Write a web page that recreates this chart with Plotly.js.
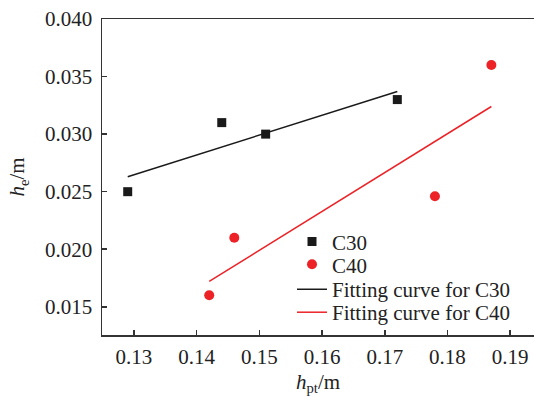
<!DOCTYPE html>
<html>
<head>
<meta charset="utf-8">
<script src="https://cdn.plot.ly/plotly-3.0.1.min.js"></script>
<style>html,body{margin:0;padding:0;overflow:hidden;background:#fff;}</style>
</head>
<body>
<div id="chart" style="width:534px;height:396px;"></div>
<script>
const c30X = [0.129, 0.144, 0.151, 0.172];
const c30Y = [0.025, 0.031, 0.030, 0.033];
const c40X = [0.142, 0.146, 0.178, 0.187];
const c40Y = [0.016, 0.021, 0.0246, 0.036];
const fitC30X = [0.129, 0.172];
const fitC30Y = [0.0263, 0.0337];
const fitC40X = [0.142, 0.187];
const fitC40Y = [0.0172, 0.0324];

const black = '#1a1a1a';
const red = '#ec2227';
const font = 'Liberation Serif, Times New Roman, serif';
const fs = 21;

const data = [
  {x: c30X, y: c30Y, mode: 'markers', type: 'scatter', name: 'C30', legend: 'legend',
   marker: {symbol: 'square', size: 9, color: black}},
  {x: c40X, y: c40Y, mode: 'markers', type: 'scatter', name: 'C40', legend: 'legend2',
   marker: {symbol: 'circle', size: 10, color: red}},
  {x: fitC30X, y: fitC30Y, mode: 'lines', type: 'scatter', name: 'Fitting curve for C30', legend: 'legend3',
   line: {color: black, width: 1.5}},
  {x: fitC40X, y: fitC40Y, mode: 'lines', type: 'scatter', name: 'Fitting curve for C40', legend: 'legend4',
   line: {color: red, width: 1.5}}
];

const plotTop = 18.7, plotBottom = 335.5, plotLeft = 102, plotRight = 534;
function py(pix) { return (plotBottom - pix) / (plotBottom - plotTop); }
function px(pix) { return (pix - plotLeft) / (plotRight - plotLeft); }
function leg(rowY) {
  return {x: px(292), y: py(rowY), xanchor: 'left', yanchor: 'middle',
          bgcolor: 'rgba(0,0,0,0)', borderwidth: 0,
          font: {family: font, size: fs, color: '#222'}};
}

const layout = {
  width: 534, height: 396,
  margin: {l: 102, r: 0, t: 18.7, b: 396 - 335.5},
  paper_bgcolor: '#fff', plot_bgcolor: '#fff',
  font: {family: font, size: fs, color: '#222'},
  showlegend: true,
  legend: leg(242),
  legend2: leg(265),
  legend3: leg(290),
  legend4: leg(313),
  xaxis: {
    range: [0.1249, 0.1938], dtick: 0.01, tick0: 0.13, tickformat: '.2f',
    showgrid: false, zeroline: false, showline: true, linecolor: '#333', linewidth: 1.5,
    mirror: true, ticks: 'inside', ticklen: 5, tickcolor: '#333', tickwidth: 1.5,
    ticklabelstandoff: 2,
    title: {text: '<i>h</i><sub>pt</sub>/m', font: {family: font, size: fs, color: '#222'}, standoff: 8}
  },
  yaxis: {
    range: [0.01255, 0.040], dtick: 0.005, tick0: 0.015, tickformat: '.3f',
    showgrid: false, zeroline: false, showline: true, linecolor: '#333', linewidth: 1.5,
    ticks: 'inside', ticklen: 5, tickcolor: '#333', tickwidth: 1.5,
    ticklabelstandoff: 4,
    title: {text: '<i>h</i><sub>e</sub>/m', font: {family: font, size: fs, color: '#222'}, standoff: 14}
  }
};

Plotly.newPlot('chart', data, layout, {displayModeBar: false, staticPlot: true});
</script>
</body>
</html>
